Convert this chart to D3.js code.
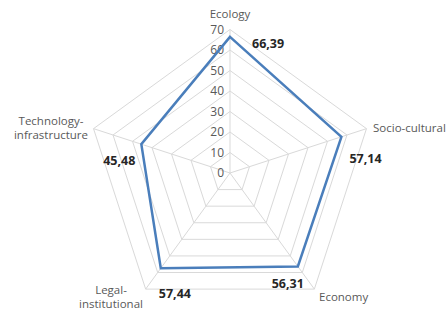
<!DOCTYPE html>
<html>
<head>
<meta charset="utf-8">
<script src="https://cdn.jsdelivr.net/npm/d3@7"></script>
<style>
body { margin: 0; background: #fff; }
svg text { font-family: "Open Sans", "Liberation Sans", sans-serif; }
</style>
</head>
<body>
<div id="chart"></div>
<script>
var categories = ["Ecology", "Socio-cultural", "Economy", "Legal-institutional", "Technology-infrastructure"];
var values = [66.39, 57.14, 56.31, 57.44, 45.48];
var valueLabels = ["66,39", "57,14", "56,31", "57,44", "45,48"];
var ticks = [0, 10, 20, 30, 40, 50, 60, 70];

var width = 447, height = 311;
var cx = 230, cy = 173;

var r = d3.scaleLinear().domain([0, 70]).range([0, 143.5]);
var angle = d3.scaleLinear().domain([0, categories.length]).range([0, 2 * Math.PI]);

function pt(i, v) {
    var a = angle(i);
    return [cx + r(v) * Math.sin(a), cy - r(v) * Math.cos(a)];
}

var svg = d3.select("#chart").append("svg")
    .attr("width", width)
    .attr("height", height);

// grid rings
var line = d3.line();
ticks.slice(1).forEach(function(t) {
    var pts = categories.map(function(c, i) { return pt(i, t); });
    svg.append("path")
        .attr("d", line(pts) + "Z")
        .attr("fill", "none")
        .attr("stroke", "#d9d9d9")
        .attr("stroke-width", 1);
});

// spokes
categories.forEach(function(c, i) {
    var p = pt(i, 70);
    svg.append("line")
        .attr("x1", cx).attr("y1", cy)
        .attr("x2", p[0]).attr("y2", p[1])
        .attr("stroke", "#d9d9d9")
        .attr("stroke-width", 1);
});

// tick labels
svg.selectAll(".tick").data(ticks).enter().append("text")
    .attr("x", cx - 6)
    .attr("y", function(d) { return cy - r(d); })
    .attr("dy", "0.35em")
    .attr("text-anchor", "end")
    .attr("font-size", 12)
    .attr("fill", "#595959")
    .text(function(d) { return d; });

// series
var seriesPts = values.map(function(v, i) { return pt(i, v); });
svg.append("path")
    .attr("d", line(seriesPts) + "Z")
    .attr("fill", "none")
    .attr("stroke", "#4a7ebb")
    .attr("stroke-width", 2.5)
    .attr("stroke-linejoin", "miter");

// value labels (offset from point)
var labelOffsets = [[22, 7, "start"], [8, 22, "start"], [6, 17, "end"], [-2, 25, "start"], [-6, 16, "end"]];
valueLabels.forEach(function(l, i) {
    var p = seriesPts[i];
    svg.append("text")
        .attr("x", p[0] + labelOffsets[i][0])
        .attr("y", p[1] + labelOffsets[i][1])
        .attr("dy", "0.35em")
        .attr("text-anchor", labelOffsets[i][2])
        .attr("font-size", 12.5)
        .attr("font-weight", "bold")
        .attr("fill", "#262626")
        .text(l);
});

// category labels
var catLabels = [
    {lines: ["Ecology"], x: 230, y: 14, anchor: "middle"},
    {lines: ["Socio-cultural"], x: 373, y: 128, anchor: "start"},
    {lines: ["Economy"], x: 319, y: 297, anchor: "start"},
    {lines: ["Legal-", "institutional"], x: 111, y: 290, anchor: "middle"},
    {lines: ["Technology-", "infrastructure"], x: 51, y: 121, anchor: "middle"}
];
catLabels.forEach(function(c) {
    var t = svg.append("text")
        .attr("x", c.x)
        .attr("y", c.y)
        .attr("text-anchor", c.anchor)
        .attr("font-size", 11.5)
        .attr("fill", "#595959");
    c.lines.forEach(function(s, k) {
        t.append("tspan")
            .attr("x", c.x)
            .attr("dy", k === 0 ? "0.35em" : "1.25em")
            .text(s);
    });
});
</script>
</body>
</html>
